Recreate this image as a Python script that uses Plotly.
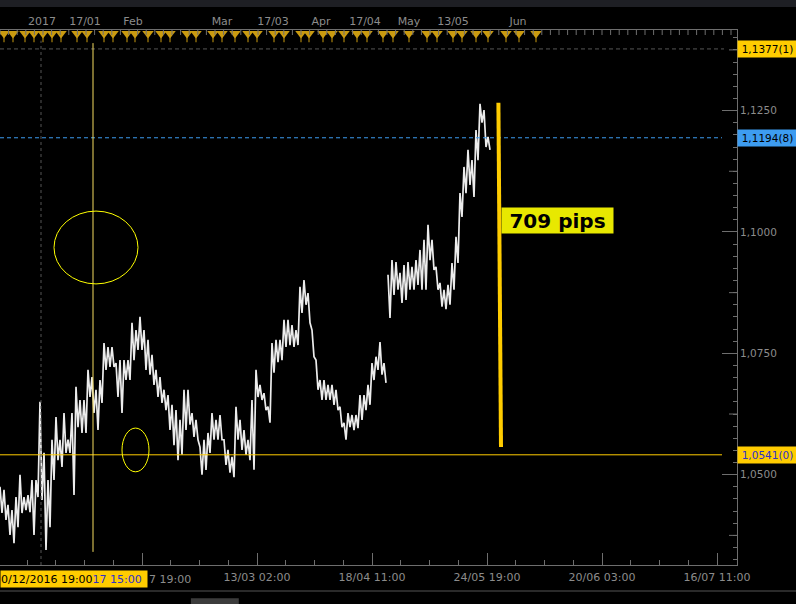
import plotly.graph_objects as go

# ---------------- data ----------------
# price samples (EUR/USD), one sample per bar-group, high / low
price_high = [1.0475, 1.0469, 1.0438, 1.0427, 1.0454, 1.0500, 1.0454, 1.0458, 1.0489, 1.0489,
              1.0650, 1.0545, 1.0489, 1.0572, 1.0619, 1.0572, 1.0627, 1.0572, 1.0627, 1.0681,
              1.0654, 1.0654, 1.0716, 1.0701, 1.0675, 1.0695, 1.0771, 1.0763, 1.0763, 1.0730,
              1.0736, 1.0736, 1.0736, 1.0813, 1.0798, 1.0825, 1.0798, 1.0778, 1.0747, 1.0716,
              1.0701, 1.0675, 1.0664, 1.0644, 1.0633, 1.0613, 1.0675, 1.0675, 1.0627, 1.0613,
              1.0557, 1.0572, 1.0586, 1.0627, 1.0613, 1.0623, 1.0572, 1.0551, 1.0537, 1.0640,
              1.0613, 1.0592, 1.0572, 1.0654, 1.0716, 1.0685, 1.0668, 1.0640, 1.0771, 1.0778,
              1.0778, 1.0819, 1.0819, 1.0808, 1.0798, 1.0887, 1.0901, 1.0874, 1.0798, 1.0736,
              1.0695, 1.0695, 1.0685, 1.0685, 1.0675, 1.0640, 1.0607, 1.0627, 1.0623, 1.0623,
              1.0664, 1.0664, 1.0685, 1.0730, 1.0743, 1.0773, 1.0730, 1.0912, 1.0942, 1.0938,
              1.0916, 1.0932, 1.0938, 1.0928, 1.0942, 1.0963, 1.0984, 1.1015, 1.0984, 1.0928,
              1.0895, 1.0881, 1.0891, 1.0936, 1.0990, 1.1080, 1.1134, 1.1169, 1.1148, 1.1210,
              1.1264, 1.1251, 1.1196]
price_low = [1.0421, 1.0407, 1.0376, 1.0359, 1.0392, 1.0421, 1.0427, 1.0423, 1.0376, 1.0454,
             1.0448, 1.0345, 1.0392, 1.0489, 1.0530, 1.0516, 1.0545, 1.0545, 1.0458, 1.0598,
             1.0586, 1.0586, 1.0660, 1.0627, 1.0592, 1.0648, 1.0716, 1.0722, 1.0722, 1.0660,
             1.0627, 1.0695, 1.0695, 1.0736, 1.0757, 1.0757, 1.0716, 1.0706, 1.0685, 1.0660,
             1.0648, 1.0633, 1.0592, 1.0561, 1.0530, 1.0541, 1.0592, 1.0603, 1.0578, 1.0572,
             1.0500, 1.0510, 1.0545, 1.0572, 1.0572, 1.0572, 1.0520, 1.0504, 1.0495, 1.0572,
             1.0551, 1.0541, 1.0530, 1.0510, 1.0660, 1.0654, 1.0633, 1.0607, 1.0710, 1.0732,
             1.0736, 1.0763, 1.0767, 1.0763, 1.0767, 1.0833, 1.0850, 1.0813, 1.0743, 1.0675,
             1.0654, 1.0654, 1.0654, 1.0644, 1.0633, 1.0598, 1.0572, 1.0598, 1.0592, 1.0596,
             1.0613, 1.0633, 1.0644, 1.0695, 1.0716, 1.0706, 1.0689, 1.0823, 1.0870, 1.0881,
             1.0854, 1.0860, 1.0881, 1.0881, 1.0891, 1.0881, 1.0881, 1.0942, 1.0922, 1.0881,
             1.0846, 1.0841, 1.0850, 1.0881, 1.0936, 1.1031, 1.1080, 1.1097, 1.1072, 1.1148,
             1.1225, 1.1175, 1.1169]
gap_index = 97  # weekend gap before this sample

# x axis (bar-group index) labels
bottom_tick_pos = [35.5, 64.25, 93, 121.75, 150.5, 179.25]
bottom_tick_text = ["", "13/03 02:00", "18/04 11:00", "24/05 19:00", "20/06 03:00", "16/07 11:00"]
top_tick_pos = [10.5, 21.25, 33.25, 55.5, 68.25, 80.25, 91.25, 102.25, 113.25, 129.5]
top_tick_text = ["2017", "17/01", "Feb", "Mar", "17/03", "Apr", "17/04", "May", "13/05", "Jun"]

# economic calendar events (bar-group index)
event_pos = [1, 3.25, 6.25, 8.5, 10.75, 13, 15.25, 19.25, 21.75, 26, 28.25, 31.75, 33.75, 37,
             40.25, 42.5, 46.75, 49, 53.25, 55.5, 58.75, 62, 64.25, 68.5, 71, 75.25, 77.25,
             80.75, 83, 86, 89.25, 91.75, 95.75, 98.25, 102.25, 106.75, 109.25, 113.25, 115.5,
             119, 122, 126.5, 129.75, 134]

# horizontal levels
level_high = 1.1377
level_last = 1.1194
level_low = 1.0541

# measuring tool
measure_top = 1.1266
measure_bottom = 1.0557

year_start = 10.25
crosshair_x = 23.25

x_range = [0, 184.25]
y_range = [1.0314, 1.1416]

# ---------------- figure ----------------
FONT = "DejaVu Sans"
GREY = "#8c8c8c"
AX = "#6e6e6e"
GOLD = "#ffcc00"
EVT = "#c99a10"

xs, ys = [], []
for i, (h, l) in enumerate(zip(price_high, price_low)):
    if i == gap_index:
        xs.append(None)
        ys.append(None)
    xs += [i, i + 0.5]
    ys += [h, l]

fig = go.Figure()
fig.add_trace(go.Scatter(x=xs, y=ys, mode="lines", line=dict(color="#ececec", width=1.7),
                         hoverinfo="skip", connectgaps=False))

# event triangles (top)
fig.add_trace(go.Scatter(x=event_pos, y=[1.1398] * len(event_pos), mode="markers", xaxis="x2",
                         marker=dict(symbol="line-ns", size=5, line=dict(color=EVT, width=1)),
                         hoverinfo="skip", cliponaxis=False))
fig.add_trace(go.Scatter(x=event_pos, y=[1.1409] * len(event_pos), mode="markers", xaxis="x2",
                         marker=dict(symbol="triangle-down", size=10, color=EVT, line=dict(width=0)),
                         hoverinfo="skip", cliponaxis=False))

shapes = []
# top dark band
shapes.append(dict(type="rect", xref="paper", yref="paper", x0=0, x1=1.1, y0=1.043, y1=1.06,
                   fillcolor="#1e1f24", line=dict(width=0), layer="below"))
# small ticks hanging from the top time axis
t = 0.0
while t <= x_range[1]:
    shapes.append(dict(type="line", xref="x", yref="paper", x0=t, x1=t, y0=1, y1=1 - 5 / 535,
                       line=dict(color=AX, width=1), layer="above"))
    t += 2.15
# bottom separator and scrollbar
shapes.append(dict(type="line", xref="paper", yref="paper", x0=0, x1=1.1, y0=-0.0486, y1=-0.0486,
                   line=dict(color="#555555", width=1)))
shapes.append(dict(type="rect", xref="paper", yref="paper", x0=0.259, x1=0.324, y0=-0.074, y1=-0.062,
                   fillcolor="#3c3c3c", line=dict(width=0)))
# level lines
shapes.append(dict(type="line", xref="x", yref="y", x0=0, x1=181, y0=level_high, y1=level_high,
                   line=dict(color="#555555", width=1, dash="4px,3px")))
shapes.append(dict(type="line", xref="x", yref="y", x0=0, x1=180.5, y0=level_last, y1=level_last,
                   line=dict(color="#3d9cf0", width=1, dash="4px,3px")))
shapes.append(dict(type="line", xref="x", yref="y", x0=0, x1=180.5, y0=level_low, y1=level_low,
                   line=dict(color=GOLD, width=1)))
# year separator
shapes.append(dict(type="line", xref="x", yref="paper", x0=year_start, x1=year_start, y0=0, y1=0.98,
                   line=dict(color="#555555", width=1, dash="3px,3px")))
# crosshair vertical
shapes.append(dict(type="line", xref="x", yref="y", x0=crosshair_x, x1=crosshair_x, y0=1.0341, y1=1.1389,
                   line=dict(color="#f5dc60", width=1)))
# ellipses
shapes.append(dict(type="circle", xref="x", yref="y", x0=13.5, x1=34.5, y0=1.0893, y1=1.1043,
                   line=dict(color="#ffff00", width=1)))
shapes.append(dict(type="circle", xref="x", yref="y", x0=30.5, x1=37.25, y0=1.0506, y1=1.0596,
                   line=dict(color="#ffff00", width=1)))
# measuring line
shapes.append(dict(type="line", xref="x", yref="y", x0=124.6, x1=125.25, y0=measure_top, y1=measure_bottom,
                   line=dict(color=GOLD, width=4)))
# medium ticks on the price axis
for v in [1.0375, 1.0625, 1.0875, 1.1125, 1.1375]:
    shapes.append(dict(type="line", xref="paper", yref="y", x0=1 - 8 / 737, x1=1, y0=v, y1=v,
                       line=dict(color=AX, width=1)))

pips = round((measure_top - measure_bottom) * 10000)

annotations = [
    dict(x=1, xref="paper", y=level_high, yref="y", xanchor="left", yanchor="middle",
         text="1,1377(1)", showarrow=False, bgcolor=GOLD, width=59, height=16, borderpad=0,
         font=dict(family=FONT, size=10.5, color="#000000")),
    dict(x=1, xref="paper", y=level_last, yref="y", xanchor="left", yanchor="middle",
         text="1,1194(8)", showarrow=False, bgcolor="#3d9cf0", width=59, height=16, borderpad=0,
         font=dict(family=FONT, size=10.5, color="#000000")),
    dict(x=1, xref="paper", y=level_low, yref="y", xanchor="left", yanchor="middle",
         text="1,0541(0)", showarrow=False, bgcolor=GOLD, width=59, height=16, borderpad=0,
         font=dict(family=FONT, size=10.5, color="#3030c8")),
    dict(x=139.4, xref="x", y=1.1024, yref="y", xanchor="center", yanchor="middle",
         text=f"<b>{pips} pips</b>", showarrow=False, bgcolor="#e8e800", width=111, height=25,
         borderpad=0, font=dict(family=FONT, size=20, color="#000000")),
    dict(x=0, xref="paper", y=-0.0262, yref="paper", xanchor="left", yanchor="middle",
         text="<span style='color:#000000'>0/12/2016 19:00</span><span style='color:#3030c8'>17 15:00</span>",
         showarrow=False, bgcolor=GOLD, width=146, height=16, borderpad=0, align="left",
         font=dict(family=FONT, size=11)),
    dict(x=147 / 737, xref="paper", y=-0.0262, yref="paper", xanchor="left", yanchor="middle",
         text="7 19:00", showarrow=False, font=dict(family=FONT, size=11, color=GREY)),
]

fig.update_layout(
    width=796, height=604,
    margin=dict(l=0, r=59, t=30, b=39),
    paper_bgcolor="#000000", plot_bgcolor="#000000",
    showlegend=False, hovermode=False,
    separators=",.",
    font=dict(family=FONT, size=11, color=GREY),
    xaxis=dict(range=x_range, showgrid=False, zeroline=False, showline=True, linecolor=AX,
               tickmode="array", tickvals=bottom_tick_pos, ticktext=bottom_tick_text,
               ticks="inside", ticklen=12, tickcolor=AX, ticklabelstandoff=2,
               tickfont=dict(family=FONT, size=11, color=GREY),
               minor=dict(tickmode="linear", tick0=6.75, dtick=7.1875, ticks="inside",
                          ticklen=5, tickcolor=AX)),
    xaxis2=dict(range=x_range, overlaying="x", side="top", anchor="y", showgrid=False,
                zeroline=False, showline=True, linecolor=AX,
                tickmode="array", tickvals=top_tick_pos, ticktext=top_tick_text,
                ticks="", tickfont=dict(family=FONT, size=11, color=GREY)),
    yaxis=dict(range=y_range, side="right", showgrid=False, zeroline=False, showline=True,
               linecolor=AX, tickmode="linear", tick0=1.05, dtick=0.025, tickformat=".4f",
               ticks="inside", ticklen=15, tickcolor=AX,
               tickfont=dict(family=FONT, size=10.5, color=GREY),
               minor=dict(tickmode="linear", tick0=1.05, dtick=0.0025, ticks="inside",
                          ticklen=4, tickcolor=AX)),
    shapes=shapes,
    annotations=annotations,
)

fig.write_html("out.html", config={"displayModeBar": False},
               post_script="document.body.style.margin='0px';document.body.style.background='#000';")
